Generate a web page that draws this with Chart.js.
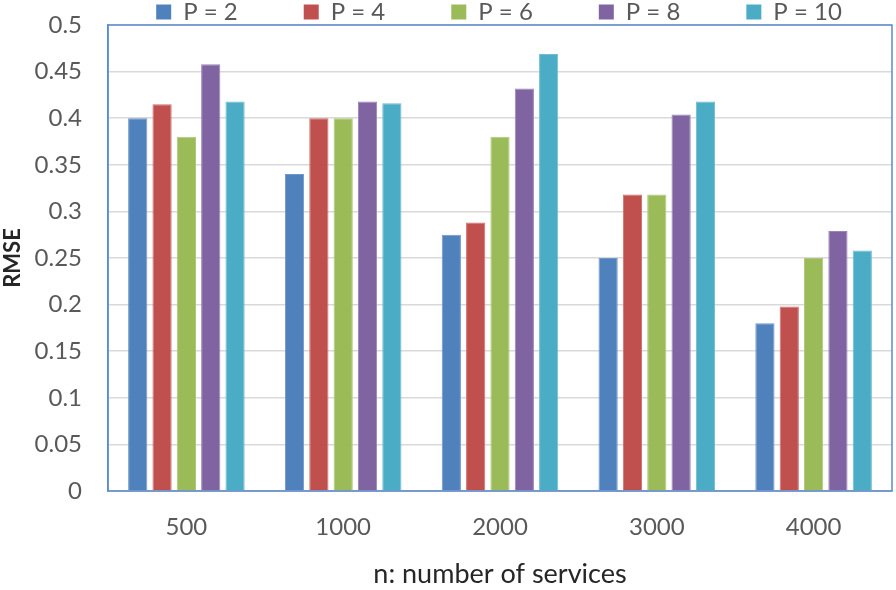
<!DOCTYPE html>
<html><head><meta charset="utf-8">
<script src="https://cdn.jsdelivr.net/npm/chart.js@4.4.1/dist/chart.umd.min.js"></script>
<style>html,body{margin:0;padding:0;background:#fff}#wrap{width:896px;height:590px}</style>
</head><body><div id="wrap"><canvas id="c" width="896" height="590"></canvas></div>
<script>
const categories = ['500', '1000', '2000', '3000', '4000'];
const seriesNames = ['P = 2', 'P = 4', 'P = 6', 'P = 8', 'P = 10'];
const p2  = [0.40, 0.34, 0.275, 0.25, 0.18];
const p4  = [0.415, 0.40, 0.288, 0.318, 0.198];
const p6  = [0.38, 0.40, 0.38, 0.318, 0.25];
const p8  = [0.458, 0.418, 0.432, 0.404, 0.279];
const p10 = [0.418, 0.416, 0.469, 0.418, 0.258];
const yTicks = [0, 0.05, 0.1, 0.15, 0.2, 0.25, 0.3, 0.35, 0.4, 0.45, 0.5];

const colors = ['#4F81BD', '#C0504D', '#9BBB59', '#8064A2', '#4BACC6'];
const borders = ['#6F97CA', '#CC6F6C', '#AFC97B', '#9A84B6', '#6FBCD2'];
const seriesData = [p2, p4, p6, p8, p10];
const FONT = 'Lato, "Open Sans", sans-serif';
const LEGEND_PAD = 66;

const frame = {
  id: 'frame',
  beforeLayout(chart) {
    const lg = chart.legend;
    if (lg && !lg.__patched) {
      const orig = lg.fit;
      lg.fit = function () { orig.call(this); this.height = 25; };
      lg.__patched = true;
    }
  },
  afterLayout(chart) {
    const lg = chart.legend;
    if (lg) {
      lg.top -= LEGEND_PAD;
      lg.left += 53; lg.right += 53;
    }
  },
  beforeDatasetsDraw(chart) {
    const a = chart.chartArea, ctx = chart.ctx;
    ctx.save();
    ctx.strokeStyle = '#5B8BD0';
    ctx.lineWidth = 1.5;
    ctx.strokeRect(a.left, a.top, a.right - a.left, a.bottom - a.top);
    ctx.restore();
  }
};

new Chart(document.getElementById('c'), {
  type: 'bar',
  data: {
    labels: categories,
    datasets: seriesNames.map((n, i) => ({
      label: n,
      data: seriesData[i],
      backgroundColor: colors[i],
      borderColor: borders[i],
      borderWidth: 1,
      barPercentage: 0.79,
      categoryPercentage: 0.776
    }))
  },
  options: {
    responsive: false,
    animation: false,
    devicePixelRatio: 1,
    layout: { padding: { left: 0, right: 4, top: 0, bottom: 0 } },
    plugins: {
      legend: {
        position: 'top',
        labels: {
          boxWidth: 15, boxHeight: 15,
          padding: LEGEND_PAD,
          font: { family: FONT, size: 24 },
          color: '#595959',
          generateLabels(chart) {
            return chart.data.datasets.map((d, i) => ({
              text: d.label, fillStyle: colors[i], strokeStyle: colors[i], lineWidth: 0,
              datasetIndex: i, fontColor: '#595959'
            }));
          }
        }
      },
      tooltip: { enabled: false }
    },
    scales: {
      x: {
        grid: { display: false, drawTicks: false },
        border: { color: '#BFBFBF', width: 1.5 },
        ticks: { font: { family: FONT, size: 24 }, color: '#595959', padding: 22 },
        title: { display: true, text: 'n: number of services', font: { family: FONT, size: 27, lineHeight: 1 }, color: '#262626', padding: { top: 0, bottom: 2 } },
        afterFit(s) { s.height = 99; s.paddingLeft = 0; s.paddingRight = 0; }
      },
      y: {
        min: 0, max: 0.5,
        afterBuildTicks(s) { s.ticks = yTicks.map(v => ({ value: v })); },
        grid: { color: '#D9D9D9', lineWidth: 1.5, drawTicks: false },
        border: { color: '#5B8BD0', width: 1.5 },
        ticks: { font: { family: FONT, size: 24 }, color: '#595959', padding: 26,
          callback: v => String(+v.toFixed(2)) },
        title: { display: true, text: 'RMSE', font: { family: FONT, size: 22, weight: 'bold' }, color: '#262626', padding: 0 },
        afterFit(s) { s.width = 108; s.paddingTop = 0; s.paddingBottom = 0; }
      }
    }
  },
  plugins: [frame]
});
</script></body></html>
